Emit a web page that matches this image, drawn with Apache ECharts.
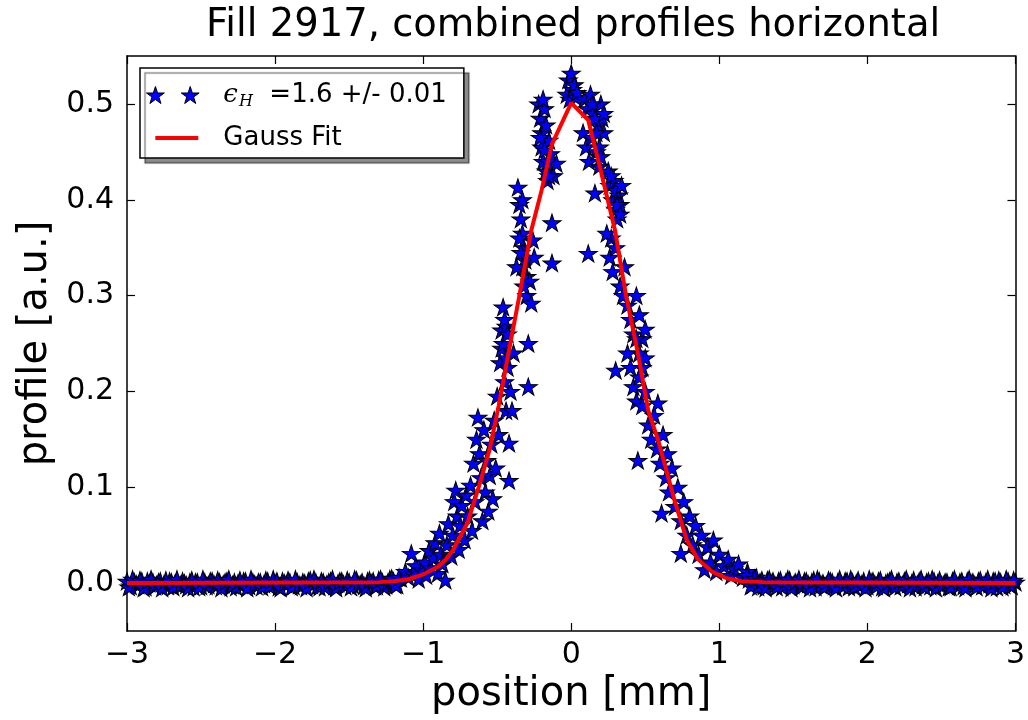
<!DOCTYPE html>
<html><head><meta charset="utf-8">
<script src="https://cdn.jsdelivr.net/npm/echarts@6/dist/echarts.min.js"></script>
<style>html,body{margin:0;padding:0;background:#fff}#c{width:1028px;height:720px}</style>
</head><body><div id="c"></div>
<script>
// ---- data ----
const titleText = 'Fill 2917, combined profiles horizontal';
const xName = 'position [mm]';
const yName = 'profile [a.u.]';
const xTicks = [-3, -2, -1, 0, 1, 2, 3];
const yTicks = [0.0, 0.1, 0.2, 0.3, 0.4, 0.5];
const scatterName = 'epsH =1.6 +/- 0.01';
const fitName = 'Gauss Fit';

const baselineLeft = [
[-3.000,0.002],[-2.975,-0.003],[-2.950,0.001],[-2.925,-0.002],[-2.900,0.002],[-2.875,-0.004],[-2.850,0.000],[-2.825,0.001],
[-2.800,-0.002],[-2.775,0.002],[-2.750,-0.001],[-2.725,-0.003],[-2.700,0.001],[-2.675,0.000],[-2.650,-0.002],[-2.625,0.002],
[-2.600,-0.002],[-2.575,0.001],[-2.550,-0.004],[-2.525,0.001],[-2.500,-0.003],[-2.475,0.001],[-2.450,-0.002],[-2.425,0.002],
[-2.400,-0.003],[-2.375,0.001],[-2.350,-0.001],[-2.325,0.002],[-2.300,-0.004],[-2.275,0.001],[-2.250,0.000],[-2.225,-0.002],
[-2.200,0.002],[-2.175,-0.003],[-2.150,0.001],[-2.125,-0.003],[-2.100,0.001],[-2.075,-0.001],[-2.050,0.002],[-2.025,-0.002],
[-2.000,0.000],[-1.975,-0.004],[-1.950,0.002],[-1.925,-0.001],[-1.900,0.001],[-1.875,-0.003],[-1.850,0.001],[-1.825,-0.003],
[-1.800,0.000],[-1.775,0.002],[-1.750,-0.002],[-1.725,0.001],[-1.700,-0.004],[-1.675,0.001],[-1.650,-0.001],[-1.625,0.002],
[-1.600,-0.003],[-1.575,0.000],[-1.550,0.002],[-1.525,-0.003],[-1.500,0.001],[-1.475,-0.002],[-1.450,0.003],[-1.425,-0.001],
[-1.400,-0.003],[-1.375,0.002],[-1.350,0.000],[-1.325,-0.003],[-1.300,0.003],[-1.275,0.001],[-1.250,-0.002],[-1.225,0.004],
[-1.200,0.002],[-1.175,-0.002],[-1.150,0.005]
];
const baselineLeft2 = [
[-2.9875,-0.004],[-2.9625,0.004],[-2.9375,-0.001],[-2.9125,0.003],[-2.8875,-0.005],[-2.8625,0.002],[-2.8375,0.004],[-2.8125,-0.003],
[-2.7875,0.001],[-2.7625,-0.005],[-2.7375,0.003],[-2.7125,0.002],[-2.6875,-0.004],[-2.6625,0.004],[-2.6375,-0.002],[-2.6125,0.000],
[-2.5875,-0.005],[-2.5625,0.003],[-2.5375,0.001],[-2.5125,-0.004],[-2.4875,0.004],[-2.4625,-0.003],[-2.4375,0.002],[-2.4125,-0.001],
[-2.3875,0.003],[-2.3625,-0.005],[-2.3375,0.001],[-2.3125,0.004],[-2.2875,-0.002],[-2.2625,-0.004],[-2.2375,0.003],[-2.2125,0.002],
[-2.1875,-0.005],[-2.1625,0.004],[-2.1375,-0.001],[-2.1125,0.001],[-2.0875,-0.004],[-2.0625,0.003],[-2.0375,-0.003],[-2.0125,0.004],
[-1.9875,0.002],[-1.9625,-0.005],[-1.9375,0.000],[-1.9125,0.003],[-1.8875,-0.004],[-1.8625,0.004],[-1.8375,-0.002],[-1.8125,0.001],
[-1.7875,-0.005],[-1.7625,0.003],[-1.7375,0.004],[-1.7125,-0.003],[-1.6875,0.002],[-1.6625,-0.004],[-1.6375,0.001],[-1.6125,0.004],
[-1.5875,-0.005],[-1.5625,0.002],[-1.5375,-0.001],[-1.5125,0.003],[-1.4875,-0.004],[-1.4625,0.004],[-1.4375,-0.002],[-1.4125,0.001],
[-1.3875,-0.005],[-1.3625,0.003],[-1.3375,0.002],[-1.3125,-0.003],[-1.2875,0.004],[-1.2625,-0.004],[-1.2375,0.001],[-1.2125,0.005],
[-1.1875,-0.002],[-1.1625,0.006]
];
const baselineRight = [
[1.200,0.004],[1.225,-0.002],[1.250,0.006],[1.275,0.001],[1.300,-0.003],[1.325,0.003],[1.350,0.000],[1.375,-0.002],
[1.400,0.002],[1.425,-0.004],[1.450,0.001],[1.475,0.003],[1.500,-0.002],[1.525,0.000],[1.550,-0.003],[1.575,0.002],
[1.600,-0.001],[1.625,0.001],[1.650,-0.004],[1.675,0.002],[1.700,0.000],[1.725,-0.002],[1.750,0.002],[1.775,-0.003],
[1.800,0.001],[1.825,-0.001],[1.850,0.002],[1.875,-0.004],[1.900,0.001],[1.925,0.000],[1.950,-0.002],[1.975,0.002],
[2.000,-0.003],[2.025,0.001],[2.050,-0.001],[2.075,0.002],[2.100,-0.004],[2.125,0.000],[2.150,0.002],[2.175,-0.002],
[2.200,0.001],[2.225,-0.003],[2.250,0.002],[2.275,-0.001],[2.300,0.000],[2.325,-0.004],[2.350,0.002],[2.375,-0.002],
[2.400,0.001],[2.425,-0.003],[2.450,0.002],[2.475,0.000],[2.500,-0.002],[2.525,0.001],[2.550,-0.004],[2.575,0.002],
[2.600,-0.001],[2.625,0.001],[2.650,-0.003],[2.675,0.002],[2.700,0.000],[2.725,-0.002],[2.750,0.002],[2.775,-0.003],
[2.800,0.001],[2.825,-0.001],[2.850,0.002],[2.875,-0.004],[2.900,0.001],[2.925,-0.002],[2.950,0.002],[2.975,-0.003],
[3.000,0.001]
];
const baselineRight2 = [
[1.1875,0.008],[1.2125,-0.003],[1.2375,0.005],[1.2625,-0.004],[1.2875,0.003],[1.3125,-0.005],[1.3375,0.004],[1.3625,0.002],
[1.3875,-0.004],[1.4125,0.003],[1.4375,-0.002],[1.4625,0.004],[1.4875,-0.005],[1.5125,0.001],[1.5375,0.004],[1.5625,-0.003],
[1.5875,0.002],[1.6125,-0.005],[1.6375,0.003],[1.6625,0.004],[1.6875,-0.002],[1.7125,-0.004],[1.7375,0.003],[1.7625,0.001],
[1.7875,-0.005],[1.8125,0.004],[1.8375,-0.003],[1.8625,0.002],[1.8875,0.004],[1.9125,-0.004],[1.9375,0.003],[1.9625,-0.001],
[1.9875,-0.005],[2.0125,0.004],[2.0375,0.002],[2.0625,-0.003],[2.0875,0.003],[2.1125,-0.005],[2.1375,0.001],[2.1625,0.004],
[2.1875,-0.004],[2.2125,0.002],[2.2375,-0.002],[2.2625,0.004],[2.2875,-0.005],[2.3125,0.003],[2.3375,-0.001],[2.3625,0.004],
[2.3875,-0.004],[2.4125,0.002],[2.4375,0.004],[2.4625,-0.005],[2.4875,0.003],[2.5125,-0.002],[2.5375,0.001],[2.5625,-0.004],
[2.5875,0.004],[2.6125,-0.003],[2.6375,0.002],[2.6625,-0.005],[2.6875,0.004],[2.7125,0.001],[2.7375,-0.004],[2.7625,0.003],
[2.7875,-0.002],[2.8125,0.004],[2.8375,-0.005],[2.8625,0.002],[2.8875,0.003],[2.9125,-0.004],[2.9375,0.004],[2.9625,-0.002],
[2.9875,0.003]
];
const peakPoints = [
[-1.12,0.012],[-1.10,0.006],[-1.08,0.031],[-1.07,0.010],[-1.05,0.018],[-1.03,0.004],[-1.01,0.014],[-0.99,0.022],
[-0.98,0.008],[-0.96,0.034],[-0.95,0.016],[-0.93,0.026],[-0.92,0.042],[-0.90,0.010],[-0.89,0.052],[-0.88,0.030],
[-0.87,0.020],[-0.85,0.003],[-0.84,0.040],[-0.83,0.062],[-0.81,0.028],[-0.80,0.050],[-0.79,0.085],[-0.78,0.097],
[-0.77,0.070],[-0.76,0.035],[-0.75,0.060],[-0.74,0.081],[-0.72,0.045],[-0.71,0.092],[-0.70,0.070],[-0.68,0.102],
[-0.67,0.055],[-0.66,0.125],[-0.65,0.085],[-0.64,0.150],[-0.63,0.173],[-0.62,0.135],[-0.61,0.110],[-0.60,0.065],
[-0.59,0.160],[-0.58,0.095],[-0.57,0.128],[-0.56,0.075],[-0.55,0.112],[-0.54,0.145],[-0.53,0.088],[-0.52,0.170],
[-0.51,0.120],[-0.50,0.195],[-0.49,0.155],[-0.48,0.230],[-0.47,0.264],[-0.47,0.245],[-0.46,0.288],[-0.45,0.210],
[-0.44,0.180],[-0.44,0.268],[-0.43,0.225],[-0.42,0.146],[-0.42,0.107],[-0.41,0.200],[-0.40,0.180],[-0.39,0.240],
[-0.46,0.250],[-0.45,0.275],[-0.43,0.260],[-0.44,0.235],
[-0.36,0.413],[-0.35,0.395],[-0.34,0.380],[-0.33,0.365],[-0.33,0.400],[-0.32,0.350],[-0.31,0.337],[-0.30,0.320],
[-0.30,0.300],[-0.29,0.250],[-0.29,0.205],[-0.28,0.315],[-0.27,0.292],[-0.26,0.358],[-0.25,0.340],
[-0.35,0.360],[-0.34,0.345],[-0.33,0.330],[-0.32,0.310],[-0.37,0.330],
[-0.22,0.500],[-0.21,0.485],[-0.20,0.470],[-0.20,0.455],[-0.19,0.440],[-0.18,0.495],[-0.17,0.430],[-0.16,0.420],
[-0.15,0.462],[-0.14,0.448],[-0.13,0.376],[-0.13,0.334],[-0.12,0.425],[-0.10,0.438],
[-0.21,0.465],[-0.19,0.505],[-0.18,0.452],[-0.17,0.478],[-0.16,0.440],[-0.15,0.425],
[-0.03,0.510],[-0.02,0.525],[-0.01,0.505],[0.00,0.532],[0.01,0.515],[0.02,0.520],[0.03,0.507],[0.04,0.512],
[0.08,0.470],[0.09,0.505],[0.10,0.455],[0.11,0.495],[0.115,0.344],[0.12,0.440],[0.13,0.510],[0.14,0.465],
[0.15,0.490],[0.16,0.407],[0.17,0.450],[0.18,0.478],[0.19,0.435],[0.20,0.500],[0.21,0.485],[0.22,0.470],
[0.14,0.500],[0.16,0.485],[0.17,0.470],[0.19,0.455],[0.20,0.445],[0.22,0.490],
[0.25,0.430],[0.26,0.415],[0.27,0.360],[0.28,0.400],[0.29,0.420],[0.30,0.222],[0.30,0.390],[0.31,0.380],
[0.32,0.405],[0.33,0.395],[0.24,0.365],[0.26,0.340],[0.28,0.325],[0.30,0.350],[0.33,0.310],[0.35,0.300],
[0.27,0.425],[0.30,0.410],[0.31,0.395],[0.33,0.385],[0.34,0.415],
[0.36,0.330],[0.38,0.290],[0.40,0.275],[0.42,0.260],[0.44,0.300],[0.46,0.280],[0.48,0.255],[0.50,0.265],
[0.46,0.240],[0.48,0.225],[0.50,0.235],[0.44,0.255],
[0.38,0.240],[0.40,0.225],[0.42,0.205],[0.44,0.190],[0.45,0.128],[0.46,0.215],[0.48,0.185],[0.50,0.200],
[0.52,0.165],[0.54,0.150],[0.56,0.175],[0.585,0.188],[0.58,0.140],[0.60,0.125],[0.61,0.073],[0.62,0.155],
[0.64,0.110],[0.65,0.135],[0.66,0.095],[0.68,0.120],[0.70,0.080],[0.72,0.100],[0.74,0.031],[0.74,0.065],
[0.76,0.085],[0.78,0.050],[0.80,0.070],[0.82,0.040],[0.84,0.060],[0.86,0.030],[0.88,0.050],[0.90,0.014],
[0.92,0.038],[0.94,0.022],[0.96,0.045],[0.98,0.012],[1.00,0.030],[1.03,0.018],[1.06,0.025],[1.08,0.008],
[1.10,0.015],[1.13,0.020],[1.16,0.006],[1.19,0.012]
];
const fitX = [-3, -1.3, -1.2, -1.1, -1.0, -0.9, -0.85, -0.8, -0.7, -0.625, -0.55, -0.49, -0.42, -0.35, -0.27, -0.2, -0.13, 0, 0.115, 0.2, 0.296, 0.37, 0.45, 0.52, 0.585, 0.7, 0.78, 0.855, 0.95, 1.05, 1.15, 1.3, 3];
const fitY = [0, 0.001, 0.002, 0.004, 0.009, 0.017, 0.024, 0.034, 0.063, 0.1, 0.14, 0.185, 0.243, 0.30, 0.368, 0.41, 0.458, 0.501, 0.483, 0.43, 0.368, 0.30, 0.24, 0.18, 0.15, 0.085, 0.045, 0.025, 0.012, 0.005, 0.002, 0.001, 0];

// ---- chart ----
const starPath = 'path://M50,0L61.23,34.55L97.55,34.55L68.17,55.9L79.39,90.45L50,69.1L20.61,90.45L31.83,55.9L2.45,34.55L38.77,34.55Z';
const twoStars = 'path://M50,0L61.23,34.55L97.55,34.55L68.17,55.9L79.39,90.45L50,69.1L20.61,90.45L31.83,55.9L2.45,34.55L38.77,34.55Z' +
  'M235,0L246.23,34.55L282.55,34.55L253.17,55.9L264.39,90.45L235,69.1L205.61,90.45L216.83,55.9L187.45,34.55L223.77,34.55Z';
const lineIcon = 'path://M0,0L0.01,0M53,17L53.01,17M9,6.5L52,6.5L52,10.5L9,10.5Z';

const FONT = 'DejaVu Sans';
const scatterData = baselineLeft.concat(baselineLeft2, peakPoints, baselineRight, baselineRight2);
const fitData = fitX.map((x, i) => [x, fitY[i]]);
const fmtX = v => v < 0 ? '\u2212' + Math.abs(v) : String(v);

const chart = echarts.init(document.getElementById('c'), null, {renderer: 'canvas'});
const tickStyle = {inside: true, length: 8, lineStyle: {color: '#000', width: 1.2}};
const lineAx = {show: true, onZero: false, lineStyle: {color: '#000', width: 1.5}};
chart.setOption({
  animation: false,
  backgroundColor: '#fff',
  title: {
    text: titleText, left: 206, top: 6, padding: 0,
    textStyle: {fontFamily: FONT, fontSize: 38.5, fontWeight: 'normal', color: '#000'}
  },
  grid: {left: 127, right: 9, top: 56, bottom: 89, containLabel: false},
  legend: {
    left: 140, top: 68, orient: 'vertical',
    padding: [12, 17, 5, 6], itemGap: 13,
    itemWidth: 53, itemHeight: 17,
    backgroundColor: '#fff', borderColor: '#000', borderWidth: 1.5,
    shadowColor: 'rgba(0,0,0,0.45)', shadowBlur: 1, shadowOffsetX: 5, shadowOffsetY: 5,
    selectedMode: false,
    data: [
      {name: scatterName, icon: twoStars, itemStyle: {color: '#0000ff', borderColor: '#000', borderWidth: 1}},
      {name: fitName, icon: lineIcon, itemStyle: {color: '#ff0000', borderWidth: 0}}
    ],
    formatter: n => n === fitName ? n : '{e|\u03f5}{h|H}{n|  =1.6 +/- 0.01}',
    textStyle: {
      fontFamily: FONT, fontSize: 26, color: '#000', lineHeight: 30, padding: [0, 0, 0, 19],
      rich: {
        e: {fontFamily: 'DejaVu Serif', fontStyle: 'italic', fontSize: 26, color: '#000'},
        h: {fontFamily: 'DejaVu Serif', fontStyle: 'italic', fontSize: 16, color: '#000', padding: [14, 0, 0, 1]},
        n: {fontFamily: FONT, fontSize: 26, color: '#000'}
      }
    }
  },
  xAxis: [
    {type: 'value', min: -3, max: 3, interval: 1, position: 'bottom',
     axisLine: lineAx, axisTick: tickStyle, splitLine: {show: false},
     axisLabel: {fontFamily: FONT, fontSize: 30, color: '#000', margin: 9, formatter: fmtX},
     name: xName, nameLocation: 'middle', nameGap: 44,
     nameTextStyle: {fontFamily: FONT, fontSize: 40, color: '#000'}},
    {type: 'value', min: -3, max: 3, interval: 1, position: 'top',
     axisLine: lineAx, axisTick: tickStyle, splitLine: {show: false}, axisLabel: {show: false}}
  ],
  yAxis: [
    {type: 'value', min: -0.05, max: 0.55, position: 'left',
     axisLine: lineAx, axisTick: Object.assign({customValues: yTicks}, tickStyle), splitLine: {show: false},
     axisLabel: {customValues: yTicks, fontFamily: FONT, fontSize: 30, color: '#000', margin: 13, formatter: v => v.toFixed(1)},
     name: yName, nameLocation: 'middle', nameGap: 66, nameRotate: 90,
     nameTextStyle: {fontFamily: FONT, fontSize: 40, color: '#000'}},
    {type: 'value', min: -0.05, max: 0.55, position: 'right',
     axisLine: lineAx, axisTick: Object.assign({customValues: yTicks}, tickStyle), splitLine: {show: false}, axisLabel: {show: false}}
  ],
  series: [
    {name: scatterName, type: 'scatter', xAxisIndex: 0, yAxisIndex: 0, data: scatterData,
     symbol: starPath, symbolSize: [18, 17], z: 2,
     itemStyle: {color: '#0000ff', borderColor: '#000', borderWidth: 1, opacity: 1},
     emphasis: {disabled: true}},
    {name: fitName, type: 'line', xAxisIndex: 0, yAxisIndex: 0, data: fitData, symbol: 'none',
     color: '#ff0000', lineStyle: {color: '#ff0000', width: 4}, itemStyle: {color: '#ff0000'}, z: 3,
     emphasis: {disabled: true}}
  ]
});
</script></body></html>
